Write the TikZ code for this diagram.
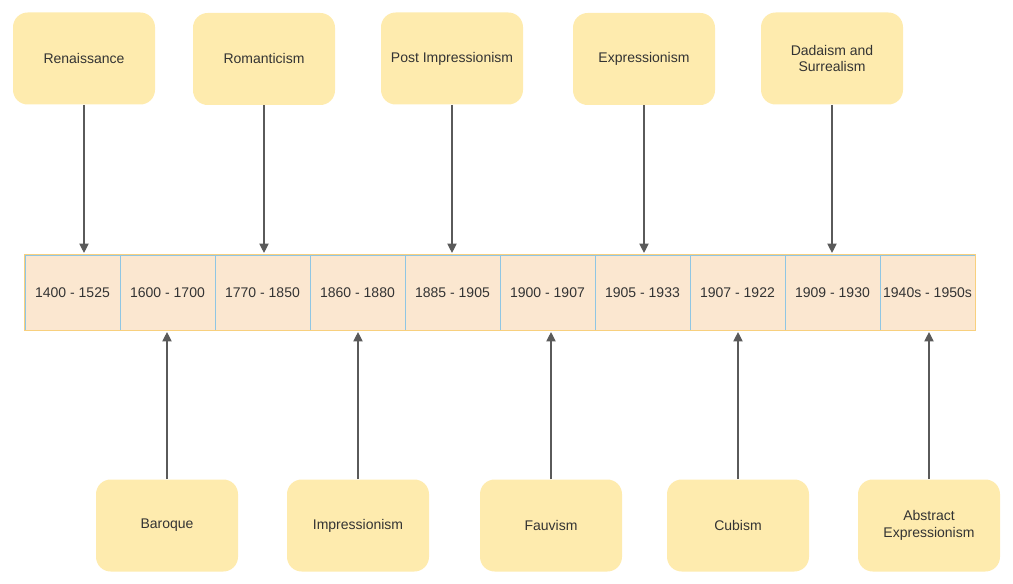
\documentclass[tikz,border=0pt]{standalone}
\usepackage{fontspec}
\setmainfont{Liberation Sans}
\usetikzlibrary{arrows.meta,positioning}
\definecolor{BoxF}{HTML}{FEEBAE}
\definecolor{CellF}{HTML}{FBE7D0}
\definecolor{CellB}{HTML}{F8D07E}
\definecolor{Divider}{HTML}{8FC6E3}
\definecolor{Ink}{HTML}{333333}
\definecolor{Wire}{HTML}{5A5A5A}

\begin{document}
\begin{tikzpicture}[
  x=0.75pt, y=-0.75pt,
  font=\fontsize{10.5}{12.5}\selectfont,
  era/.style={fill=BoxF, rounded corners=11pt, minimum width=106.5pt,
    minimum height=69pt, align=center, text=Ink, inner sep=0pt},
  cell/.style={draw=Divider, fill=CellF, line width=0.7pt, minimum width=71.25pt,
    minimum height=56.25pt, text=Ink, inner sep=0pt},
  link/.style={-{Triangle[length=7pt,width=7pt]}, Wire, line width=0.8pt,
    shorten >=1.2pt},
]
  \useasboundingbox (0,0) rectangle (1013,584);

  % timeline cells
  \foreach \lbl [count=\i] in {1400 - 1525,1600 - 1700,1770 - 1850,1860 - 1880,
      1885 - 1905,1900 - 1907,1905 - 1933,1907 - 1922,1909 - 1930,1940s - 1950s}
    \node[cell] (c\i) at ({95*\i-22.5}, 292.5) {\lbl};
  \draw[CellB, line width=0.6pt] (c1.north west) rectangle (c10.south east);

  % movements above
  \node[era] (renaissance) at (84,58.5) {Renaissance};
  \node[era] (romanticism) at (264,59) {Romanticism};
  \node[era] (postimp) at (452,58.5) {Post Impressionism};
  \node[era] (expression) at (644,59) {Expressionism};
  \node[era] (dada) at (832,58.5) {Dadaism and\\Surrealism};

  % movements below
  \node[era] (baroque) at (167,525.5) {Baroque};
  \node[era] (impression) at (358,525.5) {Impressionism};
  \node[era] (fauvism) at (551,525.5) {Fauvism};
  \node[era] (cubism) at (738,525.5) {Cubism};
  \node[era] (abstract) at (929,525.5) {Abstract\\Expressionism};

  \draw[link] (renaissance.south) -- (renaissance.south |- c1.north);
  \draw[link] (romanticism.south) -- (romanticism.south |- c3.north);
  \draw[link] (postimp.south) -- (postimp.south |- c5.north);
  \draw[link] (expression.south) -- (expression.south |- c7.north);
  \draw[link] (dada.south) -- (dada.south |- c9.north);

  \draw[link] (baroque.north) -- (baroque.north |- c2.south);
  \draw[link] (impression.north) -- (impression.north |- c4.south);
  \draw[link] (fauvism.north) -- (fauvism.north |- c6.south);
  \draw[link] (cubism.north) -- (cubism.north |- c8.south);
  \draw[link] (abstract.north) -- (abstract.north |- c10.south);
\end{tikzpicture}
\end{document}
